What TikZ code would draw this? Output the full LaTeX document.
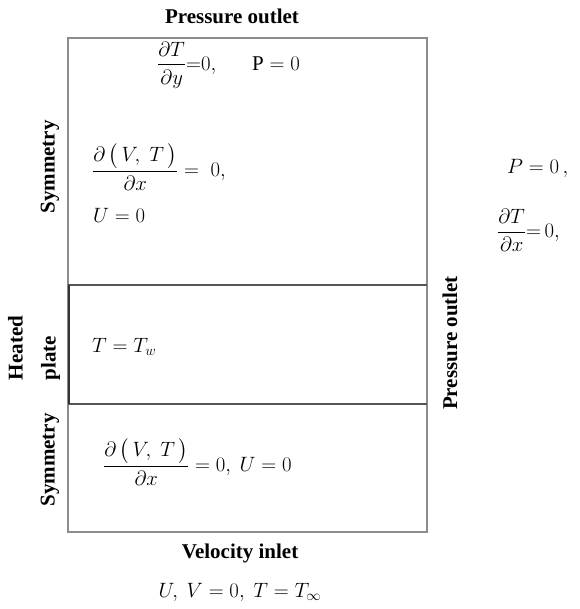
\documentclass[tikz,border=0pt]{standalone}
\usepackage{fontspec}
\setmainfont{Liberation Serif}
\usepackage{amsmath}
\usepackage{tikz}
\usetikzlibrary{positioning}
\definecolor{wallGray}{HTML}{8c8c8c}
\definecolor{wallDark}{HTML}{555555}
\definecolor{plateEdge}{HTML}{333333}
\begin{document}
\begin{tikzpicture}[x=1pt,y=-1pt,bc/.style={font=\bfseries\fontsize{21}{24}\selectfont, inner sep=0pt},eq/.style={font=\fontsize{21}{24}\selectfont, inner sep=0pt, anchor=west},wall/.style={draw=wallGray, line width=2.2pt},cut/.style={draw=wallDark, line width=1.6pt}]
\useasboundingbox (0,0) rectangle (579,609);
% domain and its three parts
\draw[wall] (68,38) rectangle (427,532);
\draw[cut] (68,285) -- (427,285);
\draw[cut] (68,404) -- (427,404);
\draw[plateEdge, line width=1.6pt] (69,285) -- (69,404);
% boundary names
\node[bc] (topout) at (232,16) {Pressure outlet};
\node[bc, rotate=90] (rightout) at (450,343) {Pressure outlet};
\node[bc, rotate=90] (symtop) at (50,167) {Symmetry};
\node[bc, rotate=90] (symbot) at (50,460) {Symmetry};
\node[bc, rotate=90, align=left, font=\bfseries\fontsize{21}{33}\selectfont] (plate) at (34,348) {Heated\\plate};
\node[bc] (inlet) at (240,553) {Velocity inlet};
\node[eq, anchor=center, below=20pt of inlet] (inletbc) {$U,\ V = 0,\ T = T_\infty$};
% conditions
\node[eq] (topbc) at (157,65) {$\dfrac{\partial T}{\partial y}{=}0,\quad\;\; \mathrm{P} = 0$};
\node[eq] (symtopbc) at (92,167) {$\dfrac{\partial\,\bigl(\,V,\;T\,\bigr)}{\partial x} = \;0,$};
\node[eq] (symtopu) at (93,215) {$U = 0$};
\node[eq] (platebc) at (92,347) {$T = T_w$};
\node[eq] (symbotbc) at (103,462) {$\dfrac{\partial\,\bigl(\,V,\;T\,\bigr)}{\partial x} = 0,\ U = 0$};
\node[eq] (outp) at (507,168) {$P = 0\,,$};
\node[eq] (outdt) at (497,230) {$\dfrac{\partial T}{\partial x}{=}\,0,$};
\end{tikzpicture}
\end{document}
